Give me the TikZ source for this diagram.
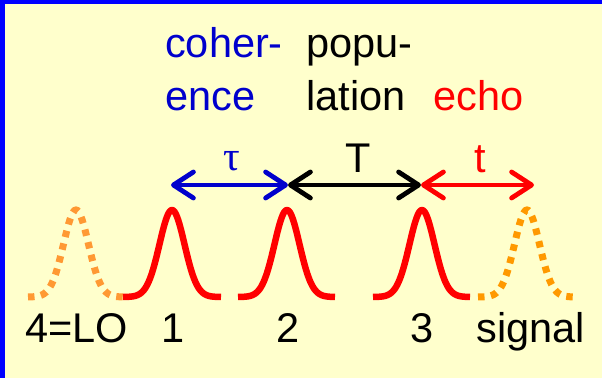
\documentclass[tikz,border=0pt]{standalone}
\usepackage{fontspec}
\setmainfont{Liberation Sans}
\newfontfamily\symfont{Liberation Serif}
\usetikzlibrary{arrows.meta}
\definecolor{bgyellow}{HTML}{FFFFCC}
\definecolor{frameblue}{HTML}{0000FF}
\definecolor{txtblue}{HTML}{0000CC}
\definecolor{lored}{HTML}{FF0000}
\definecolor{loorange}{HTML}{FF9933}
\definecolor{sigorange}{HTML}{FF9900}
\tikzset{
  lbl/.style={font=\fontsize{41.5}{48}\selectfont, inner sep=0pt, anchor=base},
  lblw/.style={lbl, anchor=base west},
  pulse/.style={line width=6.5pt, color=lored, line cap=butt, line join=round},
  dotpulse/.style={line width=7pt, dash pattern=on 6.5pt off 6.5pt, line cap=butt},
  span/.style={line width=4.8pt, line cap=round,
    {Straight Barb[length=20pt,width=26pt,line cap=round,line join=round]}-{Straight Barb[length=20pt,width=26pt,line cap=round,line join=round]}}
}
\begin{document}
\begin{tikzpicture}[x=1pt,y=-1pt]
\fill[bgyellow] (0,0) rectangle (602,378);
\useasboundingbox (0,0) rectangle (602,378);
\fill[frameblue] (0,0) rectangle (5,378);
\fill[frameblue] (0,0) rectangle (602,4);
% headings
\node[lblw, text=txtblue] (coh1) at (165,57) {coher-};
\node[lblw, text=txtblue] (coh2) at (165,110) {ence};
\node[lblw] (pop1) at (306,57) {popu-};
\node[lblw] (pop2) at (306,110) {lation};
\node[lblw, text=lored] (echo) at (433,110) {echo};
% interval labels
\node[lbl, text=txtblue, font=\fontsize{41.5}{48}\symfont] (tau) at (232,170) {τ};
\node[lbl] (bigT) at (358,172) {T};
\node[lbl, text=lored] (smallt) at (480,172) {t};
% arrows
\coordinate (p1) at (171,185);
\coordinate (p2) at (288,185);
\coordinate (p3) at (421,185);
\coordinate (p4) at (534,185);
\draw[span, color=txtblue] (p1) -- (p2);
\draw[span, color=black] (p2) -- (p3);
\draw[span, color=lored] (p3) -- (p4);
% pulses
\def\pamp{87}
\def\psig{12.5}
\draw[dotpulse, color=loorange] plot[domain=-48:48, samples=81, smooth] ({76+\x},{297-\pamp*exp(-0.5*(\x/\psig)*(\x/\psig))});
\draw[pulse] plot[domain=-49:49, samples=81, smooth] ({172+\x},{297-\pamp*exp(-0.5*(\x/\psig)*(\x/\psig))});
\draw[pulse] plot[domain=-49:48, samples=81, smooth] ({287+\x},{297-\pamp*exp(-0.5*(\x/\psig)*(\x/\psig))});
\draw[pulse] plot[domain=-49:48, samples=81, smooth] ({422+\x},{297-\pamp*exp(-0.5*(\x/\psig)*(\x/\psig))});
\draw[dotpulse, color=sigorange] plot[domain=-49:49, samples=81, smooth] ({527+\x},{297-\pamp*exp(-0.5*(\x/\psig)*(\x/\psig))});
% pulse labels
\node[lbl] (lo) at (76.5,342) {4=LO};
\node[lbl] (n1) at (173,342) {1};
\node[lbl] (n2) at (288,342) {2};
\node[lbl] (n3) at (422.5,342) {3};
\node[lbl] (sig) at (531,342) {signal};
\end{tikzpicture}
\end{document}
